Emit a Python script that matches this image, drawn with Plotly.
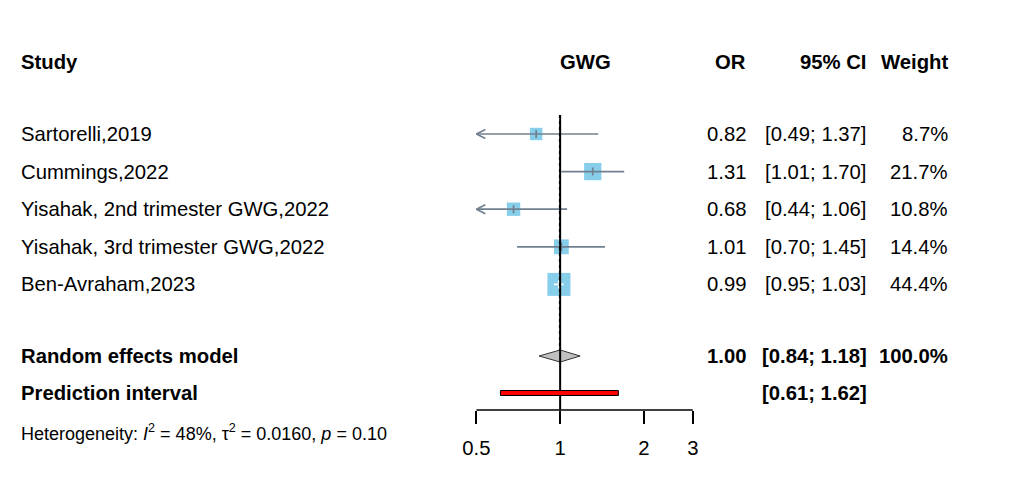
import numpy as np
import plotly.graph_objects as go

# ---------------- data ----------------
studies = ["Sartorelli,2019", "Cummings,2022", "Yisahak, 2nd trimester GWG,2022",
           "Yisahak, 3rd trimester GWG,2022", "Ben-Avraham,2023"]
or_vals = [0.82, 1.31, 0.68, 1.01, 0.99]
ci_low = [0.49, 1.01, 0.44, 0.70, 0.95]
ci_high = [1.37, 1.70, 1.06, 1.45, 1.03]
weights = [8.7, 21.7, 10.8, 14.4, 44.4]
re_or, re_low, re_high, re_weight = 1.00, 0.84, 1.18, 100.0
pi_low, pi_high = 0.61, 1.62
tick_vals = [0.5, 1, 2, 3]
tick_text = ["0.5", "1", "2", "3"]
col_headers = ["Study", "GWG", "OR", "95% CI", "Weight"]
het_text = "Heterogeneity: <i>I</i><sup>2</sup> = 48%, τ<sup>2</sup> = 0.0160, <i>p</i> = 0.10"

# ---------------- layout constants ----------------
W, H = 1009, 483
X1PX, PPD = 557.0, 280.0          # pixel of OR=1, pixels per decade
XMIN, XMAX = 0.47, 3.15           # axis range (slightly beyond ticks)
AX_LO, AX_HI = 0.5, 3.0
AXIS_Y = 410
HEADER_Y = 62
ROW0, ROWSTEP = 134.0, 37.6
RE_Y, PI_Y = 356, 393
FONT = "Liberation Sans, Arial, sans-serif"
FS = 20.3
LEFT_X = 12
SQ_COL = "#87CEEB"
LINE_COL = "#708090"

def px(v):
    return X1PX + PPD * np.log10(v)

dom = [px(XMIN) / W, px(XMAX) / W]
row_y = [ROW0 + i * ROWSTEP for i in range(len(studies))]

fig = go.Figure()

# study squares
sizes = [4 + 19 * np.sqrt(w / max(weights)) for w in weights]
fig.add_trace(go.Scatter(x=or_vals, y=row_y, mode="markers",
                         marker=dict(symbol="square", size=sizes, color=SQ_COL, opacity=1,
                                     line=dict(width=0)),
                         hoverinfo="skip", showlegend=False, cliponaxis=False))

# CI lines, ticks, arrows
for i, (o, lo, hi, s) in enumerate(zip(or_vals, ci_low, ci_high, sizes)):
    y = row_y[i]
    inside = (px(hi) - px(lo)) < s
    col = "white" if inside else LINE_COL
    lo_c = max(lo, AX_LO)
    hi_c = min(hi, AX_HI)
    fig.add_trace(go.Scatter(x=[lo_c, hi_c], y=[y, y], mode="lines",
                             line=dict(color=col, width=1.7), hoverinfo="skip", showlegend=False))
    fig.add_trace(go.Scatter(x=[o, o], y=[y - 4, y + 4], mode="lines",
                             line=dict(color=col, width=1.7), hoverinfo="skip", showlegend=False))
    if lo < AX_LO:
        xa = 10 ** ((px(AX_LO) + 9 - X1PX) / PPD)
        fig.add_trace(go.Scatter(x=[xa, AX_LO, xa], y=[y - 4.5, y, y + 4.5], mode="lines",
                                 line=dict(color=LINE_COL, width=1.7), hoverinfo="skip", showlegend=False))

# reference line at 1 and dashed line at RE estimate
fig.add_shape(type="line", x0=1, x1=1, y0=115, y1=AXIS_Y, xref="x", yref="y",
              line=dict(color="black", width=2))
fig.add_shape(type="line", x0=0.996, x1=0.996, y0=115, y1=RE_Y - 6, xref="x", yref="y",
              line=dict(color="black", width=1.5, dash="dot"))

# diamond
fig.add_trace(go.Scatter(x=[re_low, re_or, re_high, re_or, re_low],
                         y=[RE_Y, RE_Y - 6, RE_Y, RE_Y + 6, RE_Y],
                         mode="lines", fill="toself", fillcolor="#C0C0C0",
                         line=dict(color="#333333", width=1), hoverinfo="skip", showlegend=False))

# prediction interval
fig.add_shape(type="rect", x0=pi_low, x1=pi_high, y0=PI_Y - 2.5, y1=PI_Y + 2.5,
              xref="x", yref="y", fillcolor="#FF0000", line=dict(color="black", width=1))

# axis line
fig.add_shape(type="line", x0=AX_LO, x1=AX_HI, y0=AXIS_Y, y1=AXIS_Y, xref="x", yref="y",
              line=dict(color="black", width=1.5))

# ---------------- text ----------------
ann = []
def t(x, y, text, anchor, bold=False, size=FS):
    ann.append(dict(x=x / W, y=1 - y / H, xref="paper", yref="paper",
                    text=("<b>%s</b>" % text) if bold else text,
                    showarrow=False, xanchor=anchor, yanchor="middle",
                    font=dict(family=FONT, size=size, color="black")))

t(LEFT_X, HEADER_Y, col_headers[0], "left", True)
t(583, HEADER_Y, col_headers[1], "center", True)
t(746, HEADER_Y, col_headers[2], "right", True)
t(868, HEADER_Y, col_headers[3], "right", True)
t(950, HEADER_Y, col_headers[4], "right", True)

for i, name in enumerate(studies):
    y = row_y[i]
    t(LEFT_X, y, name, "left")
    t(746, y, "%.2f" % or_vals[i], "right")
    t(868, y, "[%.2f; %.2f]" % (ci_low[i], ci_high[i]), "right")
    t(950, y, "%.1f%%" % weights[i], "right")

t(LEFT_X, RE_Y, "Random effects model", "left", True)
t(746, RE_Y, "%.2f" % re_or, "right", True)
t(868, RE_Y, "[%.2f; %.2f]" % (re_low, re_high), "right", True)
t(950, RE_Y, "%.1f%%" % re_weight, "right", True)
t(LEFT_X, PI_Y, "Prediction interval", "left", True)
t(868, PI_Y, "[%.2f; %.2f]" % (pi_low, pi_high), "right", True)
t(LEFT_X, 432, het_text, "left", size=18)

fig.update_layout(
    width=W, height=H, margin=dict(l=0, r=0, t=0, b=0),
    paper_bgcolor="white", plot_bgcolor="white",
    annotations=ann,
    xaxis=dict(type="log", domain=dom, range=[np.log10(XMIN), np.log10(XMAX)],
               anchor="free", position=1 - AXIS_Y / H,
               tickvals=tick_vals, ticktext=tick_text, ticks="outside", ticklen=13,
               tickwidth=1.5, tickcolor="black", showline=False, showgrid=False, zeroline=False,
               ticklabelstandoff=7,
               tickfont=dict(family=FONT, size=FS, color="black")),
    yaxis=dict(domain=[0, 1], range=[H, 0], visible=False, showgrid=False, zeroline=False),
)

fig.write_html("out.html")
